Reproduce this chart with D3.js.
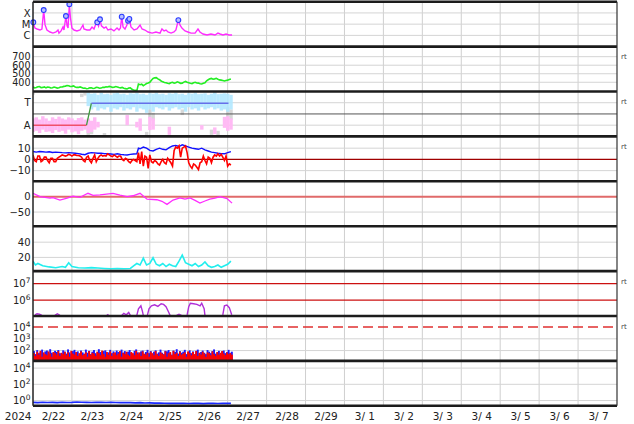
<!DOCTYPE html>
<html><head><meta charset="utf-8">
<script src="https://cdn.jsdelivr.net/npm/d3@7"></script>
<style>body{margin:0;background:#fff}svg{display:block}text{font-family:"DejaVu Sans",sans-serif;fill:#222}</style>
</head><body><svg id="c" width="634" height="424"></svg>
<script>
// ---------------- data (hours since 2024-02-22 00:00 UTC) ----------------
const dayLabels = ["2/22","2/23","2/24","2/25","2/26","2/27","2/28","2/29","3/ 1","3/ 2","3/ 3","3/ 4","3/ 5","3/ 6","3/ 7"];
const yearLabel = "2024";

const xrayTicks = [[1e-4,"X"],[1e-5,"M"],[1e-6,"C"]];
const xray = [[0,1.46e-5],[1.2,4.5e-6],[2.5,3.7e-6],[4.3,3.0e-6],[5.5,3.7e-6],[6.6,1.8e-4],[7.4,9e-6],[8.6,3e-6],[10.5,2e-6],[12.3,1.6e-6],[14.2,2e-6],[15.4,3e-6],[16,1.6e-6],[17.3,2.5e-6],[18.5,5.6e-6],[19.1,3e-6],[20.3,5.3e-5],[21,7e-6],[21.6,4.5e-6],[22.4,5.9e-4],[23.1,3.5e-5],[24,4.5e-6],[25.3,3e-6],[27.1,2.5e-6],[29,3e-6],[30.8,8.4e-6],[31.4,3.7e-6],[33.3,3e-6],[35.1,3e-6],[36.4,5.6e-6],[37.6,3.7e-6],[38.5,8.4e-6],[39.6,1.46e-5],[40.4,7e-6],[41.3,2.7e-5],[42.2,7e-6],[43.8,4.5e-6],[45,5.6e-6],[46.2,3e-6],[48.1,3.7e-6],[49.9,2.5e-6],[51.8,4.5e-6],[53,3e-6],[53.9,4.5e-6],[54.7,4.6e-5],[55.5,5.6e-6],[56.7,3.7e-6],[57.9,8.4e-6],[58.6,2e-5],[59.4,2.9e-5],[60.4,5.6e-6],[62.3,3e-6],[64.1,3.7e-6],[66,8.4e-6],[67.2,3.7e-6],[69,3e-6],[70.9,2e-6],[73.4,1.6e-6],[75.8,2e-6],[78.3,1.6e-6],[79.5,3.7e-6],[80.8,2.5e-6],[82,3e-6],[83.2,2e-6],[85.1,1.6e-6],[86.9,2e-6],[88.1,3e-6],[89.6,2.3e-5],[90.6,8.4e-6],[91.8,4.5e-6],[93.7,2.5e-6],[95.5,2e-6],[97.4,1.6e-6],[99.9,1.6e-6],[101.7,3.7e-6],[102.9,2e-6],[104.8,1.33e-6],[107.3,1.08e-6],[109.7,1.33e-6],[112.2,1.08e-6],[114,1.6e-6],[115.3,1.33e-6],[117.1,1.08e-6],[119,1.33e-6],[120.8,1.08e-6],[122.7,1.08e-6]];
const flarePeaks = [[0.2,1.46e-5],[6.6,1.8e-4],[20.3,5.3e-5],[22.4,5.9e-4],[39.6,1.46e-5],[41.3,2.7e-5],[54.7,4.6e-5],[58.6,2.0e-5],[59.4,2.9e-5],[89.6,2.3e-5]];

const speedTicks = [700,600,500,400];
const speed = [[0,345],[1,335],[2,338],[3,348],[4,350],[5,336],[6,340],[7,346],[8,335],[9,344],[10,342],[11,333],[12,336],[13,345],[14,340],[15,332],[16,335],[17,344],[18,345],[19,352],[20,355],[21,362],[22,360],[23,350],[24,352],[25,358],[26,345],[27,340],[28,340],[29,346],[30,338],[31,330],[32,332],[33,325],[34,328],[35,336],[36,335],[37,328],[38,330],[39,340],[40,338],[41,330],[42,332],[43,342],[44,340],[45,348],[46,345],[47,352],[48,348],[49,340],[50,342],[51,350],[52,345],[53,338],[54,335],[55,340],[56,330],[57,326],[58,322],[59,332],[60,335],[61,318],[62,310],[63,305],[64,300],[65,380],[66,372],[67,378],[68,360],[69,372],[70,385],[71,392],[72,400],[73,425],[74,445],[75,452],[76,455],[77,440],[78,430],[79,415],[80,405],[81,398],[82,395],[83,388],[84,385],[85,395],[86,400],[87,390],[88,395],[89,405],[90,398],[91,388],[92,390],[93,402],[94,410],[95,400],[96,395],[97,388],[98,385],[99,395],[100,400],[101,392],[102,390],[103,382],[104,380],[105,388],[106,395],[107,418],[108,430],[109,440],[110,445],[111,436],[112,440],[113,446],[114,435],[115,428],[116,425],[117,420],[118,415],[119,422],[120,425],[121,432],[122,438]];

const sectorTicks = [[0.5,"T"],[-0.5,"A"]];
const sectorLineAway = [[0,-0.5],[33,-0.5]];
const sectorLineTurn = [[33,-0.5],[36,0.48]];
const sectorLineToward = [[36,0.48],[120.5,0.48]];
const greyBins = [[0,0.86,0.95],[30,0.75,0.9],[32,0.82,0.95],[34,-0.93,-0.6],[36,-0.9,-0.7],[44,-0.95,-0.85],[70,-0.95,-0.8],[72,-0.2,0.2],[74,-0.3,0.05],[92,-0.05,0.2],[110,-0.93,-0.7],[112,0.9,0.98],[114,-0.95,-0.75],[120,-0.13,0.3],[122,-0.25,0.2]];
const awayBins = [[0,-0.8,-0.2],[2,-0.75,-0.15],[4,-0.85,-0.25],[6,-0.7,-0.1],[8,-0.8,-0.2],[10,-0.78,-0.3],[12,-0.85,-0.15],[14,-0.72,-0.22],[16,-0.8,-0.12],[18,-0.75,-0.2],[20,-0.88,-0.25],[22,-0.7,-0.15],[24,-0.82,-0.2],[26,-0.78,-0.28],[28,-0.9,-0.18],[30,-0.75,-0.15],[32,-0.7,-0.25],[34,-0.85,-0.2],[36,-0.8,-0.3],[38,-0.7,-0.15],[40,-0.6,-0.35],[58,-0.5,-0.05],[64,-0.6,-0.35],[66,-0.75,-0.2],[72,-0.72,-0.13],[74,-0.7,-0.2],[84,-0.93,-0.57],[104,-0.7,-0.5],[112,-0.9,-0.6],[118,-0.62,-0.13],[120,-0.75,-0.1],[122,-0.7,-0.2]];
const towardBins = [[34,0.35,0.95],[36,0.2,0.9],[38,0.3,0.92],[40,0.15,0.85],[42,0.25,0.95],[44,0.2,0.88],[46,0.3,0.9],[48,0.1,0.85],[50,0.25,0.92],[52,0.2,0.95],[54,0.3,0.88],[56,0.15,0.9],[58,0.25,0.85],[60,0.2,0.92],[62,0.3,0.9],[64,0.1,0.95],[66,0.25,0.88],[68,0.2,0.9],[70,0.05,0.85],[72,0.2,0.92],[74,0.1,0.9],[76,0.3,0.95],[78,0.25,0.88],[80,0.2,0.9],[82,0.3,0.85],[84,0.15,0.92],[86,0.25,0.9],[88,0.3,0.95],[90,0.2,0.88],[92,0.25,0.9],[94,0.1,0.85],[96,0.3,0.92],[98,0.2,0.9],[100,0.25,0.95],[102,0.15,0.88],[104,0.3,0.9],[106,0.2,0.92],[108,0.25,0.85],[110,0.3,0.9],[112,0.2,0.95],[114,0.25,0.88],[116,0.15,0.9],[118,0.2,0.92],[120,0.1,0.9],[122,0.2,0.85]];

const bTicks = [10,0,-10];
const bt = [[0,7],[2,6.5],[4,7],[6,6.8],[8,6.5],[10,6.8],[12,6.2],[14,6.5],[16,6.3],[18,6],[20,5.8],[22,6],[24,5.8],[26,5.5],[28,5.2],[30,4.6],[32,4.2],[34,5.5],[36,6],[38,5.8],[40,5.5],[42,5.5],[44,5.2],[46,5],[48,4.8],[50,4.5],[52,5],[54,4.5],[56,4.2],[58,4],[60,4.5],[62,4.8],[64,5],[65,10],[66,9.5],[68,11],[70,10],[72,8],[74,7.5],[76,9],[78,10],[80,9],[82,8.5],[84,10.5],[86,12],[88,12.5],[90,11.5],[92,13],[94,12],[96,11],[98,10],[100,9.5],[102,9],[104,10],[106,8.5],[108,7.5],[110,6.5],[112,6],[114,5.5],[116,5.2],[118,5],[120,6],[122,7]];
// hourly Bz, index = hour
const bzHourly = [4,-1,-2,3,3,-2,-1,2,2,-1,-3,1,1,-2,-2,1,2,
  3,4,3.5,3,3.5,4.5,4,3,4,4,3.5,3.5,3,2,
  -1,-2,2,3,-1,-3,1,4,-2,1,3,
  4,3,3.5,3,5,4,3,2.5,4,3,2,3,3,
  0,-1,1,0,-2,-3,-1,0,-1,-2,
  6,-4,7,-6,3,2,-8,4,-2,-3,
  -1,-2,-4,-5,-2,0,-3,-4,1,-1,-3,-6,
  8,11,10,12,2,10,11,12,6,
  -3,-6,-8,-4,-5,-7,-9,-3,
  -2,3,-1,-4,2,1,-3,2,
  4,3,5,3,4.5,2,
  -1,3,-6,-4,-5];

const dstTicks = [0,-50];
const dst = [[0,11],[4.3,0],[10.5,-5],[12.3,-3],[16.6,-11],[21,-5],[24.7,2],[29,-2],[33.9,11],[37,4],[41.3,6],[49.3,11],[53.6,5],[58,0],[61.6,3],[66,11],[70.3,-8],[76.4,-10],[79.5,-15],[82.6,-25],[86.3,-11],[90.6,-4],[93.7,-8],[96.8,-4],[99.9,-12],[102.9,-21],[106,-14],[109,-8],[112.2,-5],[115.3,0],[119.6,-6],[122.7,-21]];

const densTicks = [40,20];
const dens = [[0,15],[1.5,10],[3,12],[6,9],[10,7.5],[14,6.5],[18,8],[20,7],[22,13],[24,8],[28,6.5],[32,6],[36,6.5],[40,6],[44,5.5],[48,5],[52,5.5],[56,5],[60,5.5],[62,9],[64,12],[66,10],[68,19],[70,10],[72,12],[74,19.5],[76,11],[78,9],[80,12],[82,8],[84,11],[86,9],[88,8],[90,15],[92,23],[93,18],[94,13],[96,11],[98,9],[100,12],[102,8],[104,10],[106,14],[108,9],[110,7],[112,8],[114,10],[116,7],[118,9],[120,11],[122,15]];

const elecTicks = [7,6];
const elec = [[1.2,1.3e5],[2.5,1.5e5],[4,1.4e5],[5.5,1.2e5],[6,null],[13.5,1.2e5],[15,1.5e5],[16.6,1.2e5],[17,null],[45.5,1.2e5],[46.5,1.4e5],[47,null],[54.8,1.2e5],[56,1.6e5],[57.5,1.3e5],[59,1.8e5],[60,1.2e5],[61,null],[64,1.2e5],[65,3e5],[66.5,4.5e5],[67.5,2e5],[68,1.2e5],[69,null],[70.5,1.2e5],[71.5,3e5],[73,4.5e5],[75,5.2e5],[77,4.2e5],[79,6e5],[80.5,5.5e5],[82,4e5],[83.5,2e5],[84.5,1.2e5],[85,null],[88.5,1.2e5],[90,1.4e5],[91.5,1.2e5],[92,null],[95,1.3e5],[96,4e5],[97,6.5e5],[99,6e5],[101,5.5e5],[103,4.5e5],[104,6.5e5],[105.5,3e5],[106,1.2e5],[107,null],[117,1.3e5],[118,4.5e5],[119.5,5e5],[121,3.5e5],[122.5,1.3e5]];

const protTicks = [4,3,2];
const protonRed = [60,35,80,45,95,30,70,50,40,85,55,30,75,60,45,90,35,65,50,80,40,70,30,95,55,45,75,35,60,85,40,50,70,30,90,45,65,55,35,80,60,40,100,50,30,75,45,85,35,60,70,40,55,90,30,65,50,80,45,35,75,60,40,95,50,70,35,85,55,45,65,30,80,60,40,90,50,35,70,55,45,85,30,60,75,40,95,50,65,35,80,45,55,70,30,85,60,40,75,50,90,35,65,45,80,55,30,70,60,40,85,50,35,75,45,65,90,55,40,70,50,60,45];
const protonBlue = [90,50,110,60,70,120,45,85,100,55,130,65,50,95,75,110,60,45,105,80,55,125,70,50,90,115,60,85,45,100,70,55,120,65,95,50,80,110,60,45,130,75,55,90,105,50,70,115,60,85,45,100,75,55,120,65,90,50,80,110,60,45,95,125,70,55,85,100,50,75,115,60,90,45,80,105,55,70,120,65,50,95,85,110,60,45,100,75,130,55,90,65,80,115,50,70,105,60,85,45,95,120,55,75,100,65,50,110,80,60,90,125,55,70,95,45,85,100,60,75,115,65,80];

const e2Ticks = [4,2,0];
const elec2 = [[0,0.6],[3,0.55],[6,0.62],[9,0.58],[12,0.6],[15,0.55],[18,0.62],[21,0.58],[24,0.6],[27,0.65],[30,0.62],[33,0.6],[36,0.58],[39,0.62],[42,0.6],[45,0.56],[48,0.6],[51,0.58],[54,0.55],[57,0.58],[60,0.55],[63,0.52],[66,0.55],[69,0.5],[72,0.52],[75,0.48],[78,0.5],[81,0.47],[84,0.45],[87,0.47],[90,0.44],[93,0.45],[96,0.43],[99,0.45],[102,0.44],[105,0.42],[108,0.44],[111,0.45],[114,0.43],[117,0.44],[120,0.45],[122,0.44]];

const rtPanels = [1,2,3,6,7];

// ---------------- layout ----------------
const L = 33, R = 617, T0 = 1.7, PH = 44.9, NP = 9;
const t0 = Date.UTC(2024,1,22);
const hr = h => new Date(t0 + h*3600e3);
const x = d3.scaleUtc().domain([new Date(t0), new Date(Date.UTC(2024,2,8))]).range([L,R]);
const pt = i => T0 + i*PH, pb = i => T0 + (i+1)*PH;
const svg = d3.select('#c');

const ys = [
  d3.scaleLog().domain([1e-7,1e-3]).range([pb(0),pt(0)]),
  d3.scaleLinear().domain([292,818]).range([pb(1),pt(1)]),
  d3.scaleLinear().domain([-1,1]).range([pb(2),pt(2)]),
  d3.scaleLinear().domain([-19.5,20.5]).range([pb(3),pt(3)]),
  d3.scaleLinear().domain([-96,50]).range([pb(4),pt(4)]),
  d3.scaleLinear().domain([2,61]).range([pb(5),pt(5)]),
  d3.scaleLog().domain([Math.pow(10,5.04),Math.pow(10,7.75)]).range([pb(6),pt(6)]),
  d3.scaleLog().domain([Math.pow(10,1.12),Math.pow(10,4.94)]).range([pb(7),pt(7)]),
  d3.scaleLog().domain([Math.pow(10,-0.65),Math.pow(10,4.89)]).range([pb(8),pt(8)])
];

const defs = svg.append('defs');
for (let i=0;i<NP;i++) defs.append('clipPath').attr('id','cp'+i).append('rect')
  .attr('x',L).attr('y',pt(i)).attr('width',R-L).attr('height',PH);
const pg = i => svg.append('g').attr('clip-path',`url(#cp${i})`);

const days = d3.utcDay.range(new Date(t0), new Date(Date.UTC(2024,2,8)));
const gridG = svg.append('g');
gridG.selectAll('line.v').data(days.slice(1)).join('line')
  .attr('x1',d=>x(d)).attr('x2',d=>x(d)).attr('y1',pt(0)).attr('y2',pb(8))
  .attr('stroke','#cfcfcf').attr('stroke-width',1);

function hgrid(i, vals, color, width, dash) {
  gridG.selectAll(null).data(vals).join('line')
    .attr('x1',L).attr('x2',R).attr('y1',d=>ys[i](d)).attr('y2',d=>ys[i](d))
    .attr('stroke',color||'#d4d4d4').attr('stroke-width',width||1)
    .attr('stroke-dasharray',dash||null);
}
hgrid(0, xrayTicks.map(d=>d[0]));
hgrid(1, speedTicks);
hgrid(2, sectorTicks.map(d=>d[0]));
hgrid(3, [10,-10]);
hgrid(4, [-50]);
hgrid(5, densTicks);
hgrid(7, [1e3,1e2]);
hgrid(8, e2Ticks.map(e=>Math.pow(10,e)));

// panel 0: x-ray
{
  const g = pg(0), y = ys[0];
  g.append('path').datum(xray).attr('fill','none').attr('stroke','#ff2cff').attr('stroke-width',1.4)
    .attr('d', d3.line().x(d=>x(hr(d[0]))).y(d=>y(d[1])));
  svg.append('g').selectAll('circle').data(flarePeaks).join('circle')
    .attr('cx',d=>x(hr(d[0]))).attr('cy',d=>y(d[1])).attr('r',2.4)
    .attr('fill','#b8c0ff').attr('stroke','#2a3cff').attr('stroke-width',1.1);
}
// panel 1: speed
{
  const g = pg(1), y = ys[1];
  g.append('path').datum(speed).attr('fill','none').attr('stroke','#22ee22').attr('stroke-width',1.6)
    .attr('d', d3.line().x(d=>x(hr(d[0]))).y(d=>y(d[1])));
}
// panel 2: sector
{
  const g = pg(2), y = ys[2];
  const bw = x(hr(2)) - x(hr(0));
  const bins = (data, color, op) => g.append('g').attr('opacity',op||1).selectAll('rect').data(data).join('rect')
    .attr('x',d=>x(hr(d[0]))-bw/2).attr('width',bw+0.2)
    .attr('y',d=>y(d[2])).attr('height',d=>y(d[1])-y(d[2])).attr('fill',color);
  bins(greyBins,'#cdcdcd',0.8);
  bins(awayBins,'#ffbaf4');
  bins(towardBins,'#b2e8ff',0.9);
  g.append('line').attr('x1',L).attr('x2',R).attr('y1',y(0)).attr('y2',y(0)).attr('stroke','#555').attr('stroke-width',1);
  const ln = d3.line().x(d=>x(hr(d[0]))).y(d=>y(d[1]));
  g.append('path').datum(sectorLineAway).attr('fill','none').attr('stroke','#f0506a').attr('stroke-width',1.5).attr('d',ln);
  g.append('path').datum(sectorLineTurn).attr('fill','none').attr('stroke','#3f9a3f').attr('stroke-width',1.3).attr('d',ln);
  g.append('path').datum(sectorLineToward).attr('fill','none').attr('stroke','#6670ea').attr('stroke-width',1.5).attr('d',ln);
}
// panel 3: Bt / Bz
{
  const g = pg(3), y = ys[3];
  g.append('line').attr('x1',L).attr('x2',R).attr('y1',y(0)).attr('y2',y(0)).attr('stroke','#a00000').attr('stroke-width',1.2);
  const ln = d3.line().x(d=>x(hr(d[0]))).y(d=>y(d[1]));
  g.append('path').datum(bt).attr('fill','none').attr('stroke','#1010ff').attr('stroke-width',1.4).attr('d',ln);
  g.append('path').datum(bzHourly).attr('fill','none').attr('stroke','#ff0000').attr('stroke-width',1.6)
    .attr('d', d3.line().x((d,i)=>x(hr(i))).y(d=>y(d)));
}
// panel 4: Dst
{
  const g = pg(4), y = ys[4];
  g.append('line').attr('x1',L).attr('x2',R).attr('y1',y(0)).attr('y2',y(0)).attr('stroke','#e06a6a').attr('stroke-width',2);
  g.append('path').datum(dst).attr('fill','none').attr('stroke','#ff2cff').attr('stroke-width',1.3)
    .attr('d', d3.line().x(d=>x(hr(d[0]))).y(d=>y(d[1])));
}
// panel 5: density
{
  const g = pg(5), y = ys[5];
  g.append('path').datum(dens).attr('fill','none').attr('stroke','#22eeee').attr('stroke-width',1.6)
    .attr('d', d3.line().x(d=>x(hr(d[0]))).y(d=>y(d[1])));
}
// panel 6: electrons
{
  const g = pg(6), y = ys[6];
  g.append('path').datum(elec).attr('fill','none').attr('stroke','#b030d8').attr('stroke-width',1.4)
    .attr('d', d3.line().defined(d=>d[1]!=null).x(d=>x(hr(d[0]))).y(d=>y(d[1])));
  g.selectAll(null).data([1e7,1e6]).join('line').attr('x1',L).attr('x2',R)
    .attr('y1',d=>y(d)).attr('y2',d=>y(d)).attr('stroke','#cc1010').attr('stroke-width',1.3);
}
// panel 7: protons
{
  const g = pg(7), y = ys[7];
  const bw = x(hr(1)) - x(hr(0));
  const bars = (data,color) => g.append('g').selectAll('rect').data(data).join('rect')
    .attr('x',(d,i)=>x(hr(i))).attr('width',bw+0.3)
    .attr('y',d=>y(d)).attr('height',d=>pb(7)-y(d)).attr('fill',color);
  bars(protonBlue,'#1a1aff');
  bars(protonRed,'#ff0000');
  g.append('line').attr('x1',L).attr('x2',R).attr('y1',y(1e4)).attr('y2',y(1e4))
    .attr('stroke','#e03030').attr('stroke-width',1.5).attr('stroke-dasharray','10,5');
}
// panel 8
{
  const g = pg(8), y = ys[8];
  g.append('path').datum(elec2).attr('fill','none').attr('stroke','#1a2aff').attr('stroke-width',1.6)
    .attr('d', d3.line().x(d=>x(hr(d[0]))).y(d=>y(d[1])));
}

// frame
const fr = svg.append('g');
for (let i=0;i<=NP;i++) fr.append('line').attr('x1',L).attr('x2',R).attr('y1',pt(i)).attr('y2',pt(i))
  .attr('stroke','#1c1c1c').attr('stroke-width',2.6);
fr.append('line').attr('x1',L).attr('x2',L).attr('y1',pt(0)).attr('y2',pb(8)).attr('stroke','#222').attr('stroke-width',1.5);
fr.append('line').attr('x1',R).attr('x2',R).attr('y1',pt(0)).attr('y2',pb(8)).attr('stroke','#333').attr('stroke-width',1.2);

// labels
const lg = svg.append('g').attr('font-size','10px');
function lab(i, v, base, exp, fs) {
  const t = lg.append('text').attr('x',30.5).attr('y',ys[i](v)).attr('dy','0.36em').attr('text-anchor','end');
  if (fs) t.attr('font-size',fs);
  t.append('tspan').text(base);
  if (exp != null) t.append('tspan').attr('dy','-0.5em').attr('font-size','7.5px').text(exp);
}
const fmt = v => v < 0 ? '\u2212' + Math.abs(v) : String(v);
xrayTicks.forEach(d=>lab(0,d[0],d[1]));
speedTicks.forEach(v=>lab(1,v,String(v),null,'9.6px'));
sectorTicks.forEach(d=>lab(2,d[0],d[1]));
bTicks.forEach(v=>lab(3,v,fmt(v)));
dstTicks.forEach(v=>lab(4,v,fmt(v)));
densTicks.forEach(v=>lab(5,v,String(v)));
elecTicks.forEach(e=>lab(6,Math.pow(10,e),'10',String(e)));
protTicks.forEach(e=>lab(7,Math.pow(10,e),'10',String(e)));
e2Ticks.forEach(e=>lab(8,Math.pow(10,e),'10',String(e)));

const xl = svg.append('g').attr('font-size','10.5px');
xl.append('text').attr('x',31.5).attr('y',420).attr('text-anchor','end').text(yearLabel);
xl.selectAll('text.d').data(days).join('text')
  .attr('x',(d,i)=>(x(d)+x(d3.utcDay.offset(d,1)))/2+1).attr('y',420)
  .attr('text-anchor','middle').style('white-space','pre').text((d,i)=>dayLabels[i]);

svg.append('g').attr('font-size','7px').selectAll('text').data(rtPanels).join('text')
  .attr('x',621).attr('y',i=>pt(i)+12.5).style('fill','#444').text('rt');
</script></body></html>
